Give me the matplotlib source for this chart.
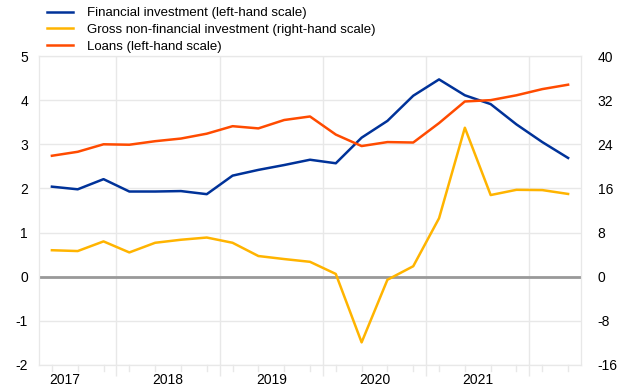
import matplotlib.pyplot as plt
import numpy as np

plt.rcParams['font.family'] = ['Liberation Sans', 'DejaVu Sans']
plt.rcParams['axes.unicode_minus'] = False

# Quarterly data, 21 observations
financial = [2.04, 1.98, 2.21, 1.93, 1.93, 1.94, 1.87, 2.29, 2.42, 2.53, 2.65,
             2.57, 3.15, 3.53, 4.10, 4.47, 4.11, 3.91, 3.45, 3.05, 2.69]
loans = [2.74, 2.83, 3.00, 2.99, 3.07, 3.13, 3.24, 3.41, 3.36, 3.55, 3.63,
         3.22, 2.96, 3.05, 3.04, 3.48, 3.97, 4.00, 4.11, 4.25, 4.35]
gross_nonfin = [4.8, 4.65, 6.4, 4.4, 6.15, 6.7, 7.1, 6.15, 3.75, 3.2, 2.7,
                0.5, -11.9, -0.55, 1.9, 10.6, 27.0, 14.8, 15.75, 15.7, 15.0]
years = ['2017', '2018', '2019', '2020', '2021']

labels = ['Financial investment (left-hand scale)',
          'Gross non-financial investment (right-hand scale)',
          'Loans (left-hand scale)']
colors = ['#003299', '#FFB400', '#FF4B00']

x = np.arange(len(financial))
grid_col = '#e8e8e8'

fig = plt.figure(figsize=(6.2, 3.88), dpi=100)
ax = fig.add_axes([39 / 620, 23 / 388, 542 / 620, 309 / 388])
ax2 = ax.twinx()

l1, = ax.plot(x, financial, color=colors[0], lw=1.8)
l3, = ax.plot(x, loans, color=colors[2], lw=1.8)
l2, = ax2.plot(x, gross_nonfin, color=colors[1], lw=1.8)
ax.axhline(0, color='#999999', lw=2, zorder=1)

ax.set_xlim(-0.5, 20.5)
ax.set_ylim(-2, 5)
ax2.set_ylim(-16, 40)
ax.set_yticks(np.arange(-2, 6, 1))
ax2.set_yticks(np.arange(-16, 41, 8))

# year labels between the year boundaries, gridlines at boundaries
bounds = np.arange(2.5, 20, 4)
ax.set_xticks(bounds)
ax.set_xticklabels([])
ax.set_xticks(np.arange(0.5, 20, 4), minor=True)
ax.set_xticklabels(years, minor=True)
ax.tick_params(axis='x', which='major', length=8, color=grid_col, width=1)
ax.tick_params(axis='x', which='minor', length=0, pad=6, labelsize=10)
ax.grid(True, axis='x', which='major', color=grid_col, lw=1)
ax.grid(True, axis='y', color=grid_col, lw=1)
ax.set_axisbelow(True)

# small quarter ticks under the axis
for xi in x:
    ax.plot([xi, xi], [0, -0.018], transform=ax.get_xaxis_transform(),
            color=grid_col, lw=1, clip_on=False)

ax.tick_params(axis='y', length=0, pad=8, labelsize=10)
ax2.tick_params(axis='y', length=0, pad=12, labelsize=10)
for a in (ax, ax2):
    for s in a.spines.values():
        s.set_color(grid_col)

fig.legend([l1, l2, l3], labels, loc='upper left',
           bbox_to_anchor=(47 / 620, 1 - 7 / 388), frameon=False,
           fontsize=9.5, handlelength=2.0, handletextpad=1.05,
           labelspacing=0.35, borderpad=0, borderaxespad=0)

fig.savefig('out.png', dpi=100)
